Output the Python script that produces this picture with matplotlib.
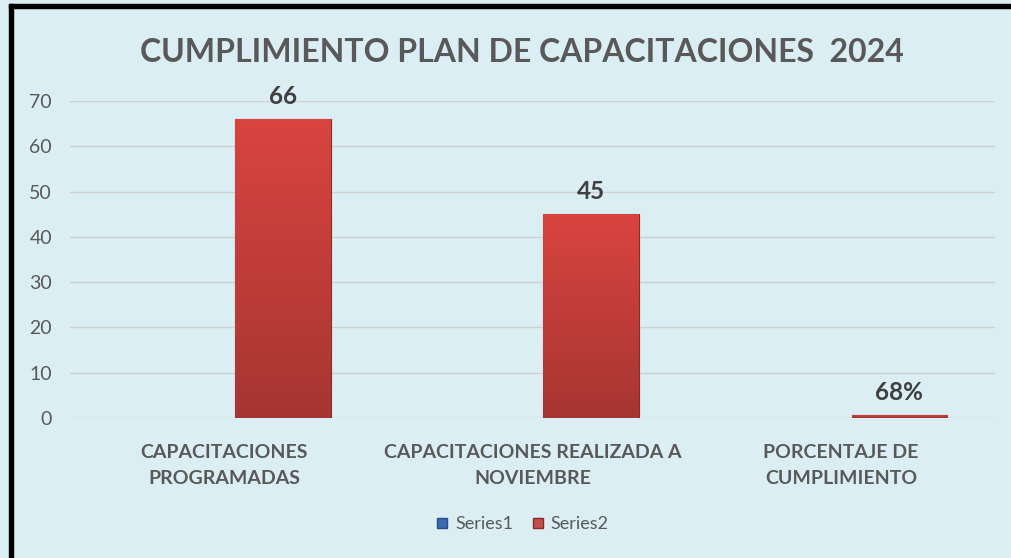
import numpy as np
import matplotlib
matplotlib.use("Agg")
import matplotlib.pyplot as plt
from matplotlib.patches import Rectangle
from matplotlib.lines import Line2D
from matplotlib.colors import LinearSegmentedColormap

categorias = ["CAPACITACIONES\nPROGRAMADAS",
              "CAPACITACIONES REALIZADA A\nNOVIEMBRE",
              "PORCENTAJE DE\nCUMPLIMIENTO"]
series1 = [0, 0, 0]
series2 = [66, 45, 0.68]
etiquetas = ["66", "45", "68%"]

FONDO = "#DAEEF3"
GRIS = "#595959"

plt.rcParams["font.family"] = ["Lato", "DejaVu Sans"]

fig = plt.figure(figsize=(10.11, 5.58), dpi=100)
fig.patch.set_facecolor(FONDO)
ax = fig.add_axes([70 / 1011, 140 / 558, 925 / 1011, 317 / 558])
ax.set_facecolor(FONDO)

x = np.arange(len(categorias))
ancho = 0.31
desp = 0.19

ax.bar(x - desp, series1, ancho, color="#4F81BD", zorder=3)
barras = ax.bar(x + desp, series2, ancho, color="#C0504D",
                edgecolor="#8B2A27", linewidth=0.8, zorder=3)

# degradado rojo dentro de cada barra
cmap = LinearSegmentedColormap.from_list("rojo", ["#A63532", "#D9443F"])
grad = np.linspace(0, 1, 256).reshape(-1, 1)
for b in barras:
    x0, y0 = b.get_x(), b.get_y()
    w, h = b.get_width(), b.get_height()
    im = ax.imshow(grad, cmap=cmap, origin="lower", aspect="auto",
                   extent=[x0, x0 + w, y0, y0 + h], zorder=3.5)
    im.set_clip_path(b)

for b, txt in zip(barras, etiquetas):
    ax.annotate(txt, (b.get_x() + b.get_width() / 2, b.get_height()),
                xytext=(0, 8), textcoords="offset points", ha="center",
                va="bottom", fontsize=17.5, fontweight="bold", color="#404040")

ax.set_xlim(-0.5, 2.5)
ax.set_ylim(0, 70)
ax.set_yticks(range(0, 71, 10))
ax.set_xticks(x)
ax.set_xticklabels(categorias, fontsize=14, fontweight="bold", color=GRIS,
                   linespacing=1.65)
ax.tick_params(axis="x", length=0, pad=19)
ax.tick_params(axis="y", length=0, pad=13, labelsize=14, labelcolor=GRIS)
ax.grid(axis="y", color="#D0D0D0", linewidth=1, zorder=0)
for s in ax.spines.values():
    s.set_visible(False)

fig.text(522 / 1011, 1 - 53 / 558, "CUMPLIMIENTO PLAN DE CAPACITACIONES  2024",
         ha="center", va="center", fontsize=23, fontweight="bold", color=GRIS)

handles = [Line2D([], [], marker="s", linestyle="", markersize=7,
                  markerfacecolor="#3C6AAE", markeredgecolor="#2B4F85"),
           Line2D([], [], marker="s", linestyle="", markersize=7,
                  markerfacecolor="#C0504D", markeredgecolor="#8B2A27")]
fig.legend(handles, ["Series1", "Series2"], loc="center",
           bbox_to_anchor=(522 / 1011, 1 - 524 / 558), ncol=2, frameon=False,
           fontsize=13, labelcolor=GRIS, handlelength=0.8, handletextpad=0.3,
           columnspacing=1.0)

# marco negro superior e izquierdo
fig.patches.append(Rectangle((9 / 1011, 1 - 8 / 558), 1, 4 / 558,
                             transform=fig.transFigure, color="black"))
fig.patches.append(Rectangle((9 / 1011, 0), 4 / 1011, 1 - 4 / 558,
                             transform=fig.transFigure, color="black"))

fig.savefig("out.png", dpi=100, facecolor=FONDO)
